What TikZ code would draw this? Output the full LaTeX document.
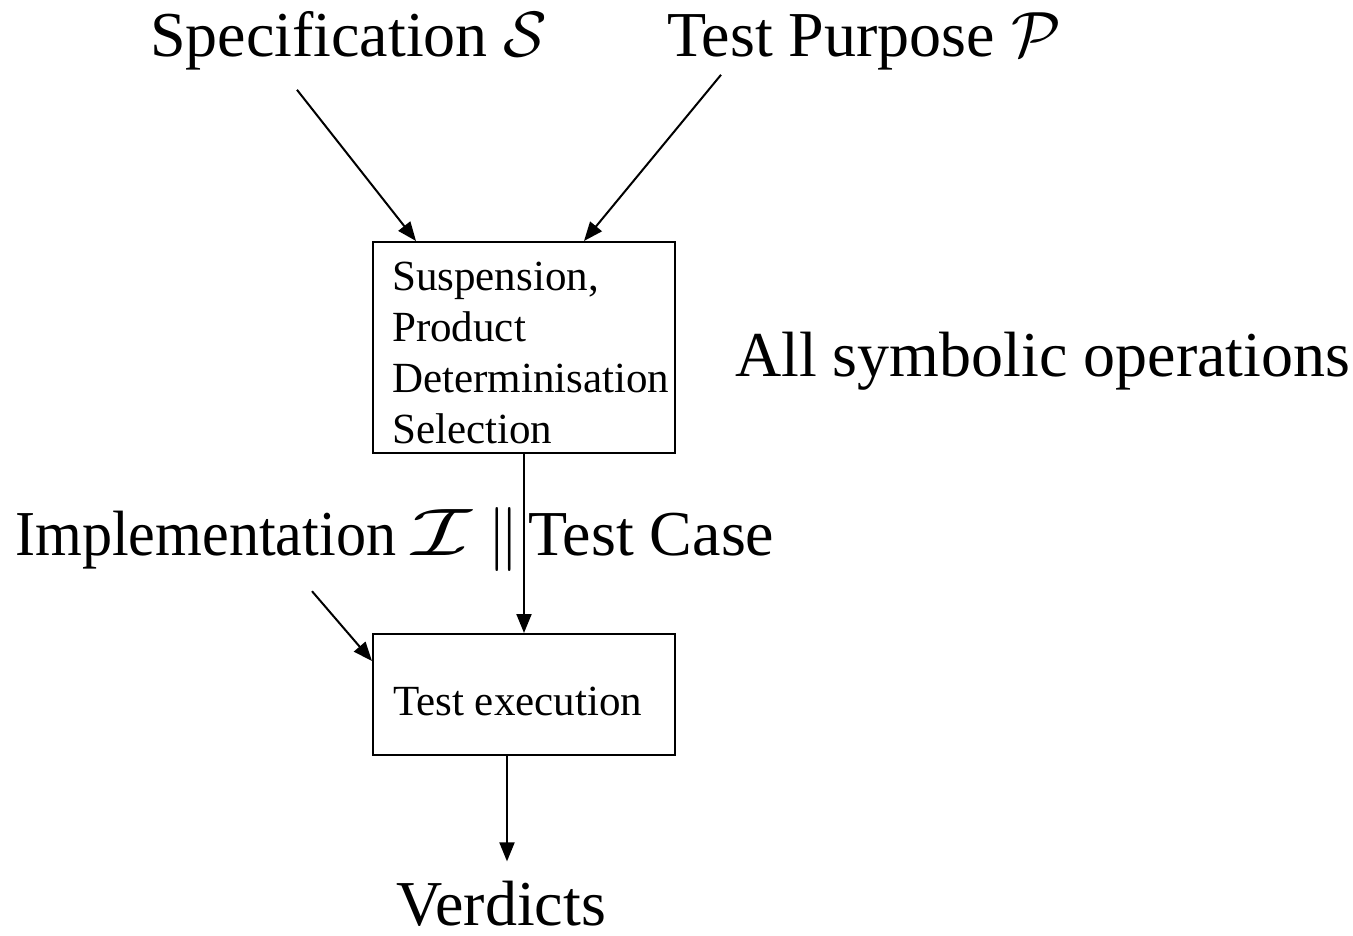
\documentclass[tikz,border=0pt]{standalone}
\usepackage{fontspec}
\setmainfont{Liberation Serif}
% scalable calligraphic letters at large sizes
\DeclareFontShape{OMS}{cmsy}{m}{n}{<->cmsy10}{}
\DeclareFontShape{OMS}{cmsy}{b}{n}{<->cmbsy10}{}
\usetikzlibrary{arrows.meta,calc}

\begin{document}
\begin{tikzpicture}[x=1pt,y=-1pt,
  bigtext/.style={font=\fontsize{64}{77}\selectfont, inner sep=0pt},
  boxtext/.style={font=\fontsize{43}{51}\selectfont, inner sep=0pt, align=left},
  procbox/.style={draw, line width=2pt, minimum width=302pt, inner sep=0pt},
  conn/.style={line width=2pt, -{Triangle[length=19pt,width=15pt]}}]
  \useasboundingbox (0,0) rectangle (1353,936);

  % inputs
  \node[bigtext, anchor=base west] (spec) at (150,57) {Specification $\mathcal{S}$};
  \node[bigtext, anchor=base west] (purpose) at (667,57) {Test Purpose $\mathcal{P}$};

  % symbolic processing box
  \node[procbox, minimum height=211pt] (ops) at (524,347.5) {};
  \node[boxtext, anchor=base west] (opslist) at (392,443)
    {Suspension,\\Product\\Determinisation\\Selection};
  \node[bigtext, anchor=base west] (allsym) at (735,376) {All symbolic operations};

  % execution
  \node[bigtext, anchor=base west] (impl) at (15,555)
    {\scalebox{0.94}[1]{Implementation} \scalebox{1.5}[1.05]{$\mathcal{I}$}\hspace{16pt}$\|$};
  \node[bigtext, anchor=base west] (testcase) at (528,555) {Test Case};
  \node[procbox, minimum height=121pt] (exec) at (524,694.5) {};
  \node[boxtext, anchor=base west] (execlabel) at (393,715) {Test execution};
  \node[bigtext, anchor=base] (verdicts) at (501,925) {Verdicts};

  % connectors
  \draw[conn] ($(spec.south west)+(147,19)$) -- ($(ops.north west)+(44,0)$);
  \draw[conn] ($(purpose.south west)+(54,4)$) -- ($(ops.north west)+(212,0)$);
  \draw[conn] (ops.south) -- (exec.north);
  \draw[conn] ($(impl.south west)+(297,20)$) -- ($(exec.north west)+(0,28)$);
  \coordinate (execout) at ($(exec.south west)+(135,0)$);
  \draw[conn, shorten >=19pt] (execout) -- (execout |- verdicts.north);
\end{tikzpicture}
\end{document}
